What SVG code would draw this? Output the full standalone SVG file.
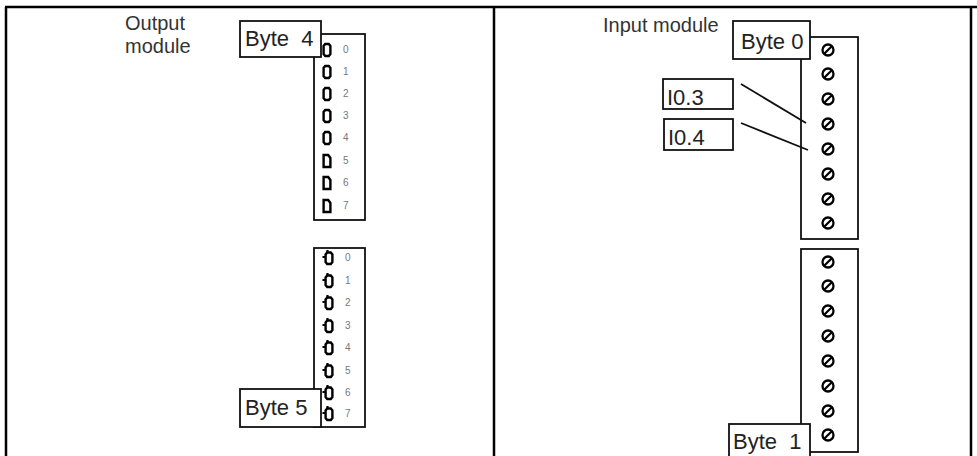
<svg xmlns="http://www.w3.org/2000/svg" width="977" height="456" viewBox="0 0 977 456">
<style>
.frame{stroke:#000;stroke-width:2.5;fill:none}
.box{fill:#fff;stroke:#111;stroke-width:1.8}
.lbl{font-family:"Liberation Sans",Arial,sans-serif;font-size:22px;fill:#222}
.title{font-family:"Liberation Sans",Arial,sans-serif;font-size:20px;fill:#333}
.num{font-family:"Liberation Sans",Arial,sans-serif;font-size:10px;fill:#777}
.pin{fill:#fff;stroke:#000;stroke-width:2.4}
.wire{stroke:#111;stroke-width:1.8;fill:none}
</style>
<defs>
<path id="pinA" class="pin" d="M-1.8,-6 L1.8,-6 L3.4,-4 L3.4,4 L1.8,6 L-1.8,6 L-3.4,4 L-3.4,-4 Z"/>
<path id="pinB" class="pin" d="M-3.4,-6 L1.2,-6 L3.4,-3 L3.4,6 L-3.4,6 Z"/>
<g id="pinC"><path class="pin" d="M-1.8,-5.5 L1.8,-5.5 L3.4,-3.5 L3.4,4 L1.8,6 L-1.8,6 L-3.4,4 L-3.4,-3.5 Z"/><path d="M-6.5,-1 L-3.4,-1 M-1.5,-8 L-1.5,-5.5" stroke="#000" stroke-width="2.2" fill="none"/></g>
<g id="screw"><circle r="5.5" fill="#fff" stroke="#000" stroke-width="2.3"/><path d="M-3.8,3.8 L3.8,-3.8" stroke="#000" stroke-width="2.2"/></g>
</defs>
<rect width="977" height="456" fill="#fff"/>
<g id="frame">
<path class="frame" d="M5,7 L977,7 M6,7 L6,456 M494,7 L494,456 M971,7 L971,456"/>
</g>
<g id="output-title"><text class="title" x="125" y="30">Output</text><text class="title" x="125" y="53">module</text></g>
<g id="byte4">
<rect class="box" x="314" y="34" width="51" height="186"/>
<use href="#pinA" x="327" y="50"/><use href="#pinA" x="327" y="72"/><use href="#pinA" x="327" y="94"/><use href="#pinA" x="327" y="116"/><use href="#pinA" x="327" y="138"/><use href="#pinB" x="327" y="161"/><use href="#pinB" x="327" y="183"/><use href="#pinB" x="327" y="206"/>
<text class="num" x="343" y="53">0</text><text class="num" x="343" y="75">1</text><text class="num" x="343" y="97">2</text><text class="num" x="343" y="119">3</text><text class="num" x="343" y="141">4</text><text class="num" x="343" y="164">5</text><text class="num" x="343" y="186">6</text><text class="num" x="343" y="209">7</text>
<rect class="box" x="240" y="21" width="81" height="36"/>
<text class="lbl" x="245" y="46" xml:space="preserve">Byte  4</text>
</g>
<g id="byte5">
<rect class="box" x="314" y="248" width="51" height="179"/>
<use href="#pinC" x="329" y="258"/><use href="#pinC" x="329" y="281"/><use href="#pinC" x="329" y="303"/><use href="#pinC" x="329" y="326"/><use href="#pinC" x="329" y="348"/><use href="#pinC" x="329" y="371"/><use href="#pinC" x="329" y="393"/><use href="#pinC" x="329" y="414"/>
<text class="num" x="345" y="261">0</text><text class="num" x="345" y="284">1</text><text class="num" x="345" y="306">2</text><text class="num" x="345" y="329">3</text><text class="num" x="345" y="351">4</text><text class="num" x="345" y="374">5</text><text class="num" x="345" y="396">6</text><text class="num" x="345" y="417">7</text>
<rect class="box" x="240" y="389" width="81" height="38"/>
<text class="lbl" x="245" y="415">Byte 5</text>
</g>
<g id="input-title"><text class="title" x="603" y="32">Input module</text></g>
<g id="byte0">
<rect class="box" x="801" y="37" width="57" height="202"/>
<use href="#screw" x="828" y="50"/><use href="#screw" x="828" y="74"/><use href="#screw" x="828" y="99"/><use href="#screw" x="828" y="124"/><use href="#screw" x="828" y="149"/><use href="#screw" x="828" y="174"/><use href="#screw" x="828" y="199"/><use href="#screw" x="828" y="223"/>
<rect class="box" x="733" y="21" width="77" height="38"/>
<text class="lbl" x="741" y="49">Byte 0</text>
</g>
<g id="byte1">
<rect class="box" x="801" y="249" width="57" height="203"/>
<use href="#screw" x="828" y="262"/><use href="#screw" x="828" y="286"/><use href="#screw" x="828" y="311"/><use href="#screw" x="828" y="336"/><use href="#screw" x="828" y="361"/><use href="#screw" x="828" y="386"/><use href="#screw" x="828" y="411"/><use href="#screw" x="828" y="435"/>
<rect class="box" x="729" y="424" width="81" height="40"/>
<text class="lbl" x="733" y="449" xml:space="preserve">Byte  1</text>
</g>
<g id="i03"><rect class="box" x="663" y="79" width="70" height="30"/><text class="lbl" x="667" y="105" fill="#444">I0.3</text></g>
<g id="i04"><rect class="box" x="664" y="119" width="69" height="31"/><text class="lbl" x="668" y="145" fill="#444">I0.4</text></g>
<g id="connectors">
<path class="wire" d="M741,84 L806,123"/>
<path class="wire" d="M741,123 L808,150"/>
</g>
</svg>
